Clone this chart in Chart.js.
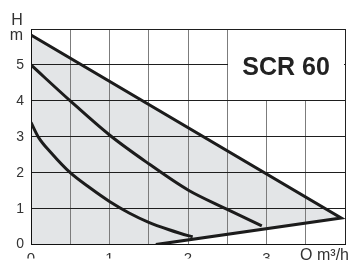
<!DOCTYPE html>
<html>
<head>
<meta charset="utf-8">
<script src="https://cdn.jsdelivr.net/npm/chart.js@4"></script>
<style>
  html, body { margin: 0; padding: 0; background: #fff; }
  #wrap { width: 350px; height: 260px; position: relative; }
</style>
</head>
<body>
<div id="wrap"><canvas id="pump"></canvas></div>
<script>
// pump curve SCR 60 — Q (m3/h) vs H (m)
const maxQ = [0, 3.95, 1.59];
const maxH = [5.83, 0.74, 0];
const midQ = [0, 0.5, 1.0, 1.5, 2.0, 2.5, 2.94];
const midH = [5.0, 4.0, 3.05, 2.25, 1.52, 0.98, 0.52];
const lowQ = [0, 0.1, 0.25, 0.5, 0.75, 1.0, 1.25, 1.5, 1.75, 2.0, 2.06];
const lowH = [3.4, 2.97, 2.57, 2.0, 1.58, 1.2, 0.88, 0.62, 0.42, 0.25, 0.22];
const xTicks = ['0', '1', '2', '3'];
const yTicks = ['0', '1', '2', '3', '4', '5'];

const pts = (qs, hs) => qs.map((q, i) => ({ x: q, y: hs[i] }));
const FONT = '"Liberation Sans", Arial, sans-serif';
const INK = '#1c1c1c';

// white panel behind the model name, drawn over the grid
const labelBox = {
  id: 'labelBox',
  beforeDatasetsDraw(chart) {
    const { ctx, scales: { x, y } } = chart;
    const l = Math.round(x.getPixelForValue(2.5)) + 1;
    const r = Math.round(x.getPixelForValue(4)) - 1;
    const t = Math.round(y.getPixelForValue(6)) + 1;
    const b = Math.round(y.getPixelForValue(4)) - 1;
    ctx.save();
    ctx.fillStyle = '#fff';
    ctx.fillRect(l, t, r - l, b - t);
    ctx.restore();
  },
  afterDraw(chart) {
    const { ctx, chartArea, scales: { x, y } } = chart;
    ctx.save();
    ctx.fillStyle = '#222';
    ctx.font = 'bold 25px ' + FONT;
    ctx.textAlign = 'center';
    ctx.textBaseline = 'middle';
    ctx.fillText('SCR 60', (x.getPixelForValue(2.5) + x.getPixelForValue(4)) / 2, y.getPixelForValue(5) + 3);

    ctx.fillStyle = '#333';
    ctx.font = '16px ' + FONT;
    ctx.textBaseline = 'alphabetic';
    ctx.fillText('H', 17, 25);
    ctx.fillText('m', 16.5, 40);

    ctx.font = '16px ' + FONT;
    ctx.textAlign = 'right';
    ctx.textBaseline = 'top';
    ctx.fillText('Q m³/h', 349, chartArea.bottom + 3);
    ctx.restore();
  }
};

new Chart(document.getElementById('pump'), {
  type: 'line',
  plugins: [labelBox],
  data: {
    datasets: [
      { data: [{ x: 0, y: 0 }, ...pts(maxQ, maxH)], fill: 'shape', backgroundColor: '#e3e5e7',
        borderColor: 'transparent', borderWidth: 0, pointRadius: 0, tension: 0 },
      { data: pts(maxQ, maxH), borderColor: INK, borderWidth: 3, borderJoinStyle: 'miter', pointRadius: 0, tension: 0, fill: false },
      { data: pts(midQ, midH), borderColor: INK, borderWidth: 3, pointRadius: 0, cubicInterpolationMode: 'monotone', fill: false },
      { data: pts(lowQ, lowH), borderColor: INK, borderWidth: 3, pointRadius: 0, cubicInterpolationMode: 'monotone', fill: false },
    ]
  },
  options: {
    responsive: true, maintainAspectRatio: false, animation: false,
    layout: { padding: { top: 29, right: 3, left: 0, bottom: 0 } },
    plugins: {
      legend: { display: false },
      tooltip: { enabled: false },
      filler: { drawTime: 'beforeDraw' },
    },
    scales: {
      x: {
        type: 'linear', min: 0, max: 4,
        afterFit: s => { s.height = 14; },
        ticks: {
          stepSize: 0.5, padding: 5, color: '#333', font: { family: FONT, size: 15 }, maxRotation: 0, autoSkip: false,
          callback: v => (Number.isInteger(v) && v < xTicks.length ? xTicks[v] : ''),
        },
        grid: { drawTicks: false, color: c => (c.tick && c.tick.value === 4 ? '#222' : '#7c7c7c'), lineWidth: 1 },
        border: { color: '#111', width: 1 },
      },
      y: {
        min: 0, max: 6,
        afterFit: s => { s.width = 31; },
        ticks: {
          stepSize: 1, padding: 7, color: '#333', font: { family: FONT, size: 14 },
          callback: v => (v < yTicks.length ? yTicks[v] : ''),
        },
        grid: { drawTicks: false, color: '#1e1e1e', lineWidth: 1 },
        border: { color: '#111', width: 1 },
      },
    },
  },
});
</script>
</body>
</html>
